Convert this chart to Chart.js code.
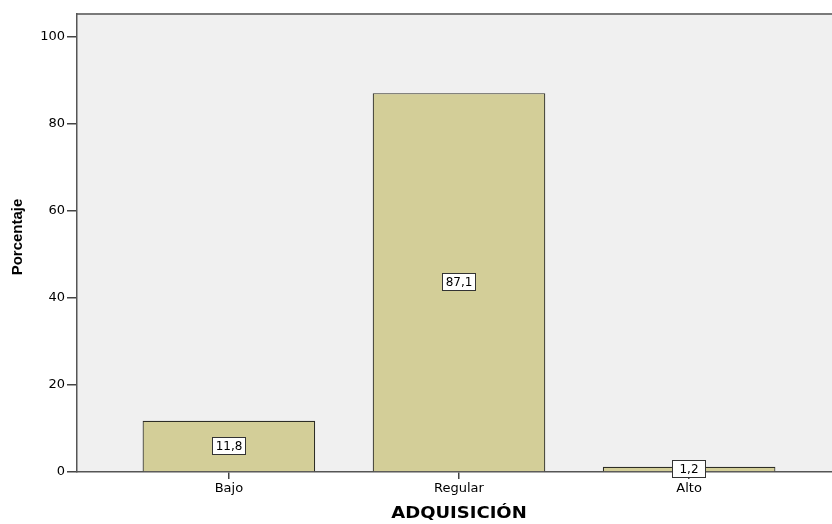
<!DOCTYPE html>
<html>
<head>
<meta charset="utf-8">
<script src="https://cdn.jsdelivr.net/npm/chart.js@4.4.1/dist/chart.umd.min.js"></script>
<style>
  html, body { margin: 0; padding: 0; background: #ffffff; overflow: hidden; }
  #wrap { width: 832px; height: 524px; overflow: hidden; }
  #box { width: 850px; height: 524px; position: relative; }
</style>
</head>
<body>
<div id="wrap"><div id="box"><canvas id="chart"></canvas></div></div>
<script>
// Categories and percentages
const categories = ['Bajo', 'Regular', 'Alto'];
const percentages = [11.8, 87.1, 1.2];
const yTickValues = [0, 20, 40, 60, 80, 100];
const xTitle = 'ADQUISICIÓN';
const yTitle = 'Porcentaje';

const points = percentages.map((v, i) => ({ x: i, y: v }));

// Plot frame: light gray panel with top border line
const framePlugin = {
  id: 'frame',
  beforeDraw(chart) {
    const { ctx, chartArea: a } = chart;
    ctx.save();
    ctx.fillStyle = '#f0f0f0';
    ctx.fillRect(a.left, a.top, a.right - a.left, a.bottom - a.top);
    ctx.strokeStyle = '#7a7a7a';
    ctx.lineWidth = 2;
    ctx.beginPath();
    ctx.moveTo(a.left, a.top);
    ctx.lineTo(a.right, a.top);
    ctx.stroke();
    ctx.restore();
  }
};

// Value boxes centred in each bar, and axis titles
const labelPlugin = {
  id: 'valueBoxes',
  afterDatasetsDraw(chart) {
    const { ctx } = chart;
    const meta = chart.getDatasetMeta(0);
    ctx.save();
    ctx.font = '12px "DejaVu Sans"';
    ctx.textAlign = 'center';
    ctx.textBaseline = 'middle';
    meta.data.forEach((bar, i) => {
      const txt = percentages[i].toFixed(1).replace('.', ',');
      const cx = Math.round(bar.x);
      const cy = Math.round((bar.y + bar.base) / 2);
      const w = 34, h = 18;
      ctx.fillStyle = '#ffffff';
      ctx.fillRect(cx - w / 2, cy - h / 2, w, h);
      ctx.strokeStyle = '#333333';
      ctx.lineWidth = 1;
      ctx.strokeRect(cx - w / 2 + 0.5, cy - h / 2 + 0.5, w - 1, h - 1);
      ctx.fillStyle = '#000000';
      ctx.fillText(txt, cx, cy + 1);
    });
    ctx.restore();
  },
  afterDraw(chart) {
    const { ctx } = chart;
    ctx.save();
    ctx.fillStyle = '#000000';
    ctx.textAlign = 'center';
    ctx.textBaseline = 'middle';
    // x-axis title, slightly widened
    ctx.save();
    ctx.translate(chart.scales.x.getPixelForValue(1), 514);
    ctx.scale(1.2, 1);
    ctx.font = 'bold 15px "DejaVu Sans"';
    ctx.fillText(xTitle, 0, 0);
    ctx.restore();
    // y-axis title, rotated
    ctx.translate(18, 237);
    ctx.rotate(-Math.PI / 2);
    ctx.font = 'bold 15px "Liberation Sans"';
    ctx.fillText(yTitle, 0, 0);
    ctx.restore();
  }
};

new Chart(document.getElementById('chart'), {
  type: 'bar',
  data: {
    datasets: [{
      data: points,
      backgroundColor: '#d3ce98',
      borderColor: '#2e2e26',
      borderWidth: 1.2,
      borderSkipped: 'start',
      barPercentage: 0.75,
      categoryPercentage: 1.0
    }]
  },
  options: {
    responsive: true,
    maintainAspectRatio: false,
    animation: false,
    layout: { padding: { top: 14, right: 9, left: 0, bottom: 0 } },
    plugins: { legend: { display: false }, tooltip: { enabled: false } },
    scales: {
      x: {
        type: 'linear',
        offset: false,
        min: -0.66,
        max: 2.66,
        afterBuildTicks(scale) {
          scale.ticks = categories.map((_, i) => ({ value: i }));
        },
        afterFit(scale) { scale.height = 52; },
        ticks: {
          callback: (v) => categories[v] ?? '',
          color: '#000000',
          font: { family: 'DejaVu Sans', size: 13 },
          padding: 2,
          maxRotation: 0
        },
        grid: { offset: false, drawOnChartArea: false, drawTicks: true, tickLength: 7, color: '#444444', lineWidth: 1.5 },
        border: { display: true, color: '#555555', width: 1.5 }
      },
      y: {
        min: 0,
        max: 105.3,
        afterBuildTicks(scale) {
          scale.ticks = yTickValues.map(v => ({ value: v }));
        },
        afterFit(scale) { scale.width = 77; },
        ticks: {
          color: '#000000',
          font: { family: 'DejaVu Sans', size: 13 },
          padding: 2
        },
        grid: { drawOnChartArea: false, drawTicks: true, tickLength: 10, color: '#444444', lineWidth: 1.5 },
        border: { display: true, color: '#555555', width: 1.5 }
      }
    }
  },
  plugins: [framePlugin, labelPlugin]
});
</script>
</body>
</html>
